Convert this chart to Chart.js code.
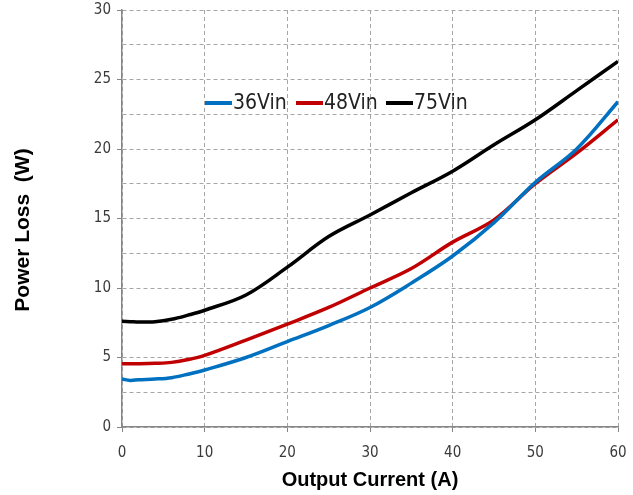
<!DOCTYPE html>
<html>
<head>
<meta charset="utf-8">
<script src="https://cdn.jsdelivr.net/npm/chart.js@4/dist/chart.umd.min.js"></script>
<style>
  html, body { margin: 0; padding: 0; background: #fff; }
  #wrap { width: 633px; height: 495px; }
</style>
</head>
<body>
<div id="wrap"><canvas id="lossChart" width="633" height="495"></canvas></div>
<script>
// output current (A)
const currents = [0, 1, 2, 4, 6, 8, 10, 15, 20, 25, 30, 35, 40, 45, 50, 55, 60];
// power loss (W) per input voltage
const loss36 = [3.45, 3.35, 3.4, 3.45, 3.55, 3.8, 4.1, 5.0, 6.15, 7.3, 8.6, 10.35, 12.3, 14.7, 17.6, 20.0, 23.4];
const loss48 = [4.55, 4.55, 4.55, 4.58, 4.65, 4.85, 5.15, 6.25, 7.4, 8.6, 10.0, 11.4, 13.3, 14.9, 17.5, 19.7, 22.1];
const loss75 = [7.6, 7.58, 7.55, 7.58, 7.75, 8.05, 8.4, 9.5, 11.5, 13.7, 15.25, 16.85, 18.4, 20.3, 22.1, 24.2, 26.3];
const seriesNames = ['36Vin', '48Vin', '75Vin'];
const seriesColors = ['#0070c0', '#c00000', '#000000'];

const narrow = '"Liberation Sans Narrow", "DejaVu Sans Condensed", "Liberation Sans", sans-serif';
const bold = '"Liberation Sans", Arial, sans-serif';

function toPoints(values) {
    return currents.map((c, i) => ({ x: c, y: values[i] }));
}

const datasets = [loss36, loss48, loss75].map((vals, i) => ({
    label: seriesNames[i],
    data: toPoints(vals),
    borderColor: seriesColors[i],
    backgroundColor: seriesColors[i],
    borderWidth: 3.5,
    pointRadius: 0,
    tension: 0.35,
    fill: false
}));

// legend and axis titles drawn where the original has them
const extras = {
    id: 'extras',
    afterDatasetsDraw(chart) {
        const ctx = chart.ctx;
        ctx.save();
        ctx.font = '21px ' + narrow;
        ctx.textBaseline = 'middle';
        ctx.textAlign = 'left';
        const starts = [205, 296, 386];
        const ly = 103;
        seriesNames.forEach((name, i) => {
            ctx.strokeStyle = seriesColors[i];
            ctx.lineWidth = 4;
            ctx.beginPath();
            ctx.moveTo(starts[i], ly);
            ctx.lineTo(starts[i] + 27, ly);
            ctx.stroke();
            ctx.fillStyle = '#222';
            ctx.fillText(name, starts[i] + 28, ly + 1);
        });

        ctx.fillStyle = '#000';
        ctx.font = 'bold 20px ' + bold;
        ctx.textAlign = 'center';
        ctx.fillText('Output Current (A)', 370, 480);

        ctx.font = 'bold 21px ' + bold;
        ctx.translate(23, 230);
        ctx.rotate(-Math.PI / 2);
        ctx.fillText('Power Loss  (W)', 0, 0);
        ctx.restore();
    }
};

new Chart(document.getElementById('lossChart'), {
    type: 'line',
    data: { datasets: datasets },
    plugins: [extras],
    options: {
        responsive: false,
        animation: false,
        layout: { padding: { left: 0, right: 15, top: 10, bottom: 0 } },
        plugins: {
            legend: { display: false },
            tooltip: { enabled: false }
        },
        scales: {
            x: {
                type: 'linear',
                min: 0,
                max: 60,
                afterFit: (scale) => {
                    scale.height = 68;
                    scale.paddingLeft = 0;
                    scale.paddingRight = 0;
                },
                ticks: {
                    stepSize: 10,
                    padding: 12,
                    color: '#3a3a3a',
                    font: { family: narrow, size: 15 }
                },
                grid: {
                    color: '#a6a6a6',
                    tickLength: 5,
                    tickColor: '#868686'
                },
                border: { color: '#868686', width: 1.5, dash: [4, 3] }
            },
            y: {
                min: 0,
                max: 30,
                afterFit: (scale) => {
                    scale.width = 122;
                    scale.paddingTop = 0;
                    scale.paddingBottom = 0;
                },
                ticks: {
                    stepSize: 2.5,
                    autoSkip: false,
                    padding: 6,
                    color: '#3a3a3a',
                    font: { family: narrow, size: 15 },
                    callback: (v) => (v % 5 === 0 ? v : '')
                },
                grid: {
                    color: '#a6a6a6',
                    tickLength: 5,
                    tickColor: (c) => (c.tick && c.tick.value % 5 === 0 ? '#868686' : 'rgba(0,0,0,0)')
                },
                border: { color: '#868686', width: 1.5, dash: [4, 3] }
            }
        }
    }
});
</script>
</body>
</html>
